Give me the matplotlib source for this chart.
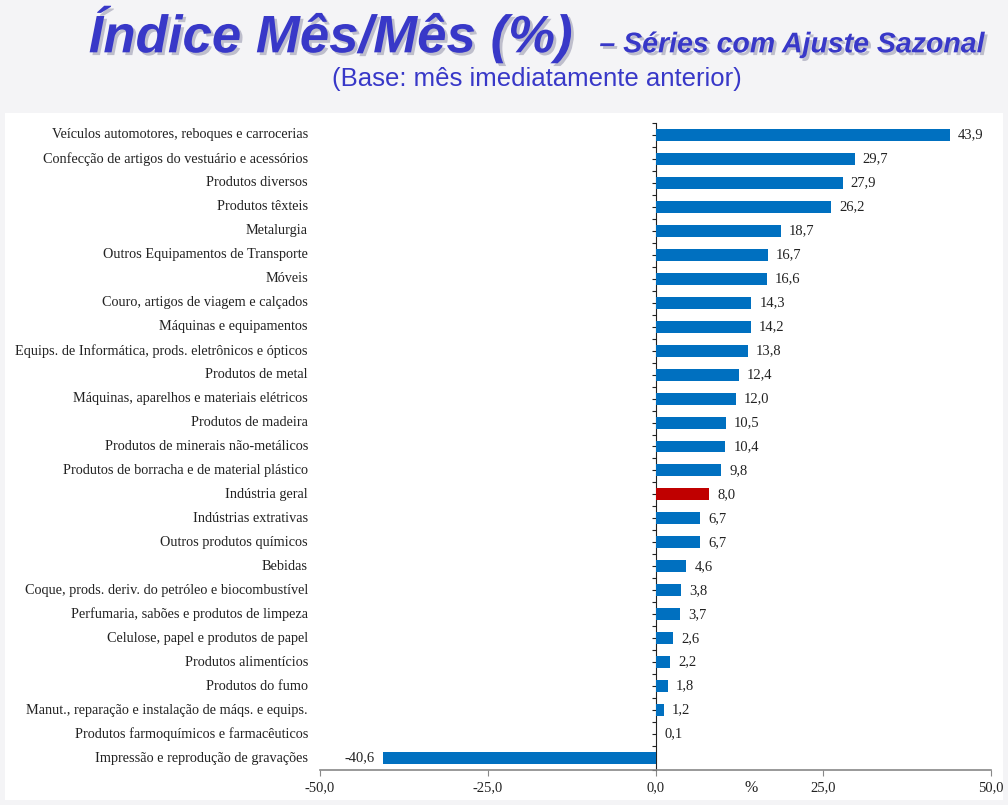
import matplotlib.pyplot as plt
from matplotlib.patches import Rectangle
import matplotlib.patheffects as pe
import numpy as np

categorias = [
    "Veículos automotores, reboques e carrocerias",
    "Confecção de artigos do vestuário e acessórios",
    "Produtos diversos",
    "Produtos têxteis",
    "Metalurgia",
    "Outros Equipamentos de Transporte",
    "Móveis",
    "Couro, artigos de viagem e calçados",
    "Máquinas e equipamentos",
    "Equips. de Informática, prods. eletrônicos e ópticos",
    "Produtos de metal",
    "Máquinas, aparelhos e materiais elétricos",
    "Produtos de madeira",
    "Produtos de minerais não-metálicos",
    "Produtos de borracha e de material plástico",
    "Indústria geral",
    "Indústrias extrativas",
    "Outros produtos químicos",
    "Bebidas",
    "Coque, prods. deriv. do petróleo e biocombustível",
    "Perfumaria, sabões e produtos de limpeza",
    "Celulose, papel e produtos de papel",
    "Produtos alimentícios",
    "Produtos do fumo",
    "Manut., reparação e instalação de máqs. e equips.",
    "Produtos farmoquímicos e farmacêuticos",
    "Impressão e reprodução de gravações",
]
valores = [43.9, 29.7, 27.9, 26.2, 18.7, 16.7, 16.6, 14.3, 14.2, 13.8, 12.4,
           12.0, 10.5, 10.4, 9.8, 8.0, 6.7, 6.7, 4.6, 3.8, 3.7, 2.6, 2.2, 1.8,
           1.2, 0.1, -40.6]
ticks_x = [-50, -25, 0, 25, 50]

fonte_serif = ["Liberation Serif", "DejaVu Serif"]
fonte_titulo = ["Liberation Sans", "DejaVu Sans"]

fig = plt.figure(figsize=(10.08, 8.05), dpi=100)
fig.patch.set_facecolor("#f4f4f6")
fig.patches.append(Rectangle((5 / 1008, 5 / 805), 998 / 1008, 687 / 805,
                             transform=fig.transFigure, facecolor="white",
                             edgecolor="none", zorder=-10))

# titulo
sombra = [pe.withSimplePatchShadow(offset=(2, -2), shadow_rgbFace="#9a9ab0", alpha=0.6)]
fig.text(0.088, 0.935, "Índice Mês/Mês (%)", fontsize=38, fontweight="bold",
         fontstyle="italic", color="#3838c8", family=fonte_titulo,
         ha="left", va="baseline", path_effects=sombra)
fig.text(0.977, 0.935, "– Séries com Ajuste Sazonal", fontsize=20.5, fontweight="bold",
         fontstyle="italic", color="#3838c8", family=fonte_titulo,
         ha="right", va="baseline", path_effects=sombra)
fig.text(0.533, 0.893, "(Base: mês imediatamente anterior)", fontsize=18.5,
         color="#3838c8", family=fonte_titulo, ha="center", va="baseline")

ax = fig.add_axes([320 / 1008, 1 - 770 / 805, 671 / 1008, 647 / 805])
ax.set_facecolor("none")

y = np.arange(len(categorias))
cores = ["#c00000" if c == "Indústria geral" else "#0070c0" for c in categorias]
ax.barh(y, valores, height=0.5, color=cores, zorder=3)

ax.set_xlim(-50, 50)
ax.set_ylim(len(categorias) - 0.5, -0.5)

for yi, v in zip(y, valores):
    txt = f"{v:.1f}".replace(".", ",")
    if v >= 0:
        ax.text(v + 1.2, yi, txt, ha="left", va="center", fontsize=10.5,
                family=fonte_serif, color="#222222")
    else:
        ax.text(v - 1.2, yi, txt, ha="right", va="center", fontsize=10.5,
                family=fonte_serif, color="#222222")

for yi, c in zip(y, categorias):
    ax.text(-0.018, yi, c, transform=ax.get_yaxis_transform(), ha="right",
            va="center", fontsize=10.3, family=fonte_serif, color="#222222")

for lado in ["top", "right"]:
    ax.spines[lado].set_visible(False)
ax.spines["left"].set_position(("data", 0))
ax.spines["left"].set_color("#222222")
ax.spines["bottom"].set_color("#888888")
ax.spines["bottom"].set_linewidth(1.2)

ax.set_yticks(np.arange(-0.5, len(categorias), 0.5))
ax.set_yticklabels([])
ax.tick_params(axis="y", length=3, direction="out", color="#222222")

ax.set_xticks(ticks_x)
ax.set_xticklabels([f"{t:.1f}".replace(".", ",") for t in ticks_x],
                   fontsize=10.5, family=fonte_serif, color="#222222")
ax.tick_params(axis="x", length=4, direction="out", color="#888888", pad=4)
ax.text(14.2, -0.016, "%", transform=ax.get_xaxis_transform(), ha="center",
        va="top", fontsize=11.5, family=fonte_serif, color="#222222")

fig.savefig("out.png", dpi=100)
